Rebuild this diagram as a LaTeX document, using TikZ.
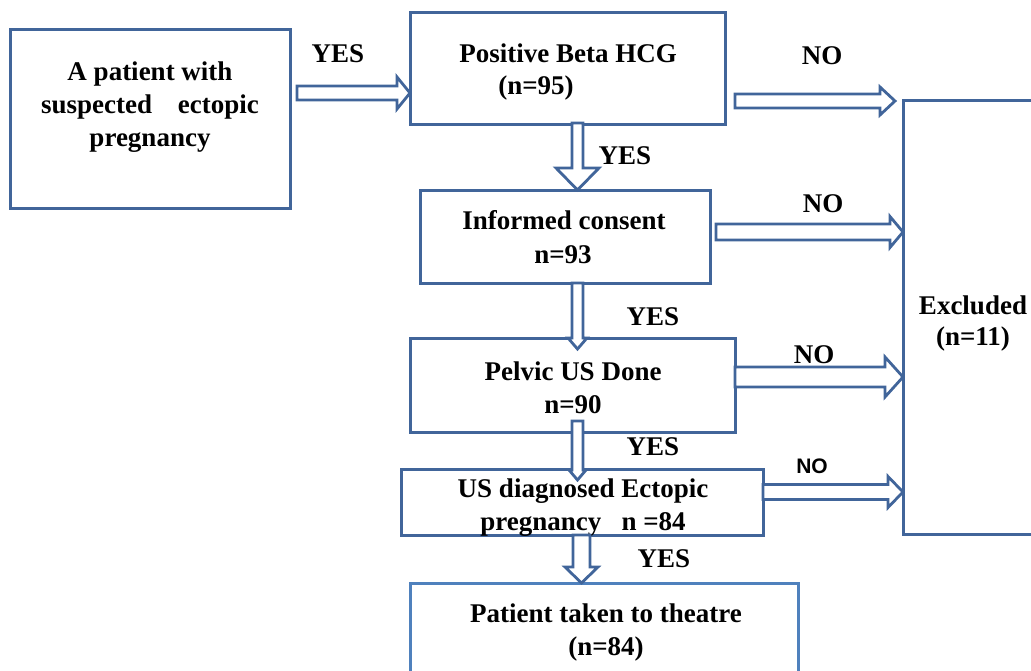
\documentclass[tikz,border=0pt]{standalone}
\usepackage{fontspec}
\setmainfont{Liberation Serif}
\newfontfamily\arialfont{Liberation Sans}
\definecolor{boxblue}{RGB}{65,101,154}
\definecolor{lightblue}{RGB}{79,129,189}
\newcommand{\harrowshape}[7]{% x0 xh x1 yc sh hh colour
  \draw[arrowshape] (#1,#4-#5) -- (#2,#4-#5) -- (#2,#4-#6) -- (#3,#4) -- (#2,#4+#6) -- (#2,#4+#5) -- (#1,#4+#5) -- cycle;}
\newcommand{\varrowshape}[6]{% xc y0 yh y1 sw hw
  \draw[arrowshape] (#1-#5,#2) -- (#1-#5,#3) -- (#1-#6,#3) -- (#1,#4) -- (#1+#6,#3) -- (#1+#5,#3) -- (#1+#5,#2) -- cycle;}
\begin{document}
\begin{tikzpicture}[x=1pt,y=-1pt,
  box/.style={draw=boxblue,line width=3pt,rectangle,inner sep=0pt,fill=none},
  arrowshape/.style={draw=boxblue,fill=white,line width=2.8pt,line join=miter},
  txt/.style={anchor=base,inner sep=0pt,font=\fontsize{27}{32}\selectfont\bfseries},
  sanslbl/.style={anchor=base,inner sep=0pt,font=\arialfont\fontsize{21}{25}\selectfont\bfseries}]
\useasboundingbox (0,0) rectangle (1031,671);
% boxes
\node[box,minimum width=280pt,minimum height=179pt] (b1) at (150,119.5) {};
\node[box,minimum width=315pt,minimum height=112pt] (b2) at (567.5,69) {};
\node[box,minimum width=290pt,minimum height=92pt] (b3) at (565,237) {};
\node[box,minimum width=325pt,minimum height=94pt] (b4) at (572.5,385) {};
\node[box,minimum width=362pt,minimum height=66pt] (b5) at (582,502) {};
\begin{scope}
\clip (0,0) rectangle (1031,671);
\node[box,draw=lightblue,minimum width=388pt,minimum height=120pt] (b6) at (604,643) {};
\node[box,minimum width=260pt,minimum height=433pt] (ex) at (1033,317.5) {};
\end{scope}
% texts
\node[txt] (t1a) at (150,81) {A patient with};
\node[txt] (t1b) at (150,114) {suspected\hspace{0.95em}ectopic};
\node[txt] (t1c) at (150,147) {pregnancy};
\node[txt] (t2a) at (568,63) {Positive Beta HCG};
\node[txt] (t2b) at (536,95) {(n=95)};
\node[txt] (t3a) at (564,230) {Informed consent};
\node[txt] (t3b) at (563,264) {n=93};
\node[txt] (t4a) at (573,380) {Pelvic US Done};
\node[txt] (t4b) at (573,413) {n=90};
\node[txt] (t5a) at (583,497) {US diagnosed Ectopic};
\node[txt] (t5b) at (583,530) {pregnancy\hspace{0.5em} n =84};
\node[txt] (t6a) at (606,622) {Patient taken to theatre};
\node[txt] (t6b) at (606,655) {(n=84)};
\node[txt] (tea) at (973,314) {Excluded};
\node[txt] (teb) at (973,345) {(n=11)};
% labels
\node[txt] (y1) at (338,63) {YES};
\node[txt] (n1) at (822,65) {NO};
\node[txt] (y2) at (625,165) {YES};
\node[txt] (n2) at (823,213) {NO};
\node[txt] (y3) at (653,325) {YES};
\node[txt] (n3) at (814,363) {NO};
\node[txt] (y4) at (653,455) {YES};
\node[sanslbl] (n4) at (812,473) {NO};
\node[txt] (y5) at (664,567) {YES};
% block arrows
\harrowshape{297}{397}{410}{93}{7}{16}{}
\harrowshape{735}{880}{895}{101}{7}{14}{}
\harrowshape{716}{890}{903}{232}{8}{15.5}{}
\harrowshape{735}{885}{903}{377}{10}{20}{}
\harrowshape{763}{888}{903}{492}{7.5}{15.5}{}
\varrowshape{577.5}{123}{168}{190}{5.5}{21.5}
\varrowshape{577.5}{283}{338}{349}{5.5}{9.5}
\varrowshape{577.5}{421}{470}{480}{5.5}{8.5}
\varrowshape{581.5}{535}{567}{583}{8.5}{16.5}
\end{tikzpicture}
\end{document}
